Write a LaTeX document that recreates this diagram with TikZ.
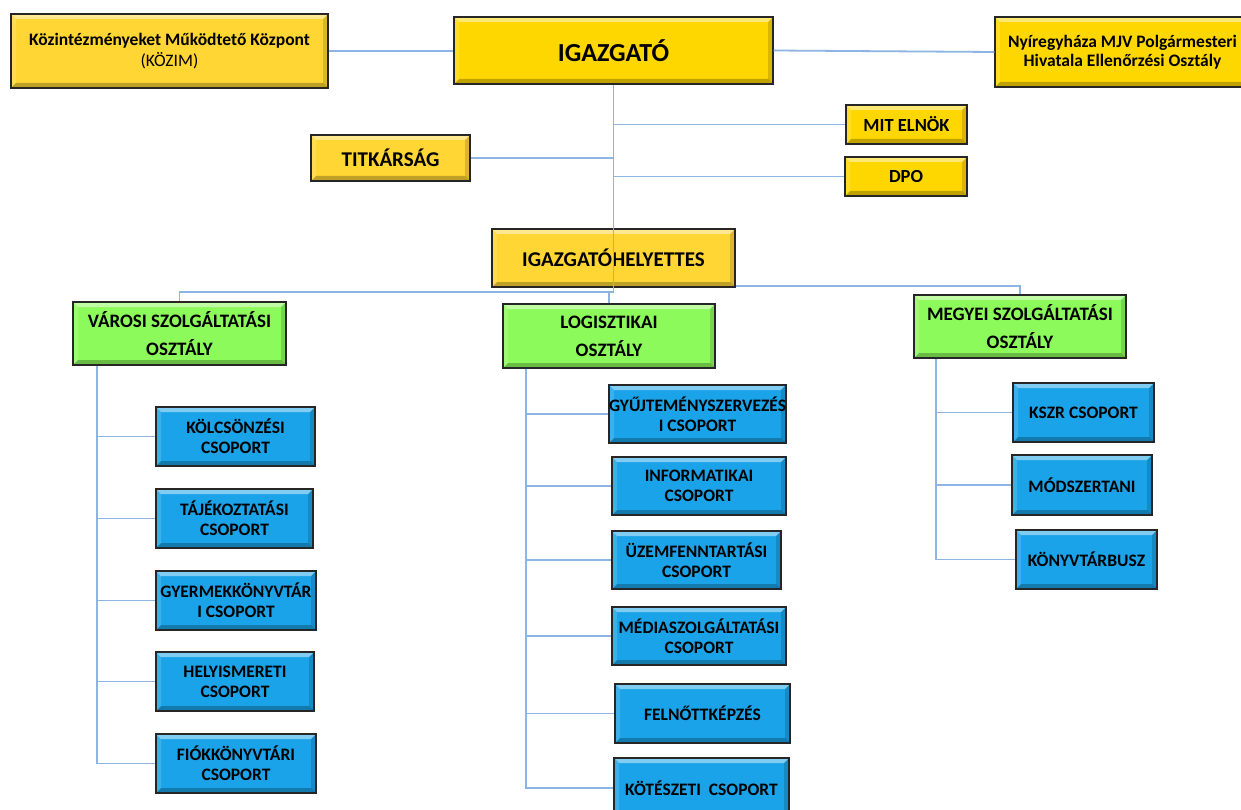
\documentclass[tikz,border=0pt]{standalone}
\usepackage{fontspec}
\setmainfont{Carlito}
\definecolor{goldA}{HTML}{FFD700}
\definecolor{goldB}{HTML}{FFD633}
\definecolor{greenA}{HTML}{8CFA5A}
\definecolor{blueA}{HTML}{1AA3E8}
\definecolor{boxedge}{HTML}{262626}
\definecolor{conn}{HTML}{8DB4E2}
\newcommand\orgbox[7]{\node[#2, minimum width={(#5)-(#3)}, minimum height={(#6)-(#4)}] (#1) at ({((#3)+(#5))/2},{((#4)+(#6))/2}) {#7};}
\tikzset{
 bevel/.style={path picture={
   \fill[white,opacity=.45] (path picture bounding box.north west) -- (path picture bounding box.north east) -- ([shift={(-5pt,-5pt)}]path picture bounding box.north east) -- ([shift={(5pt,-5pt)}]path picture bounding box.north west) -- cycle;
   \fill[black,opacity=.25] (path picture bounding box.south west) -- (path picture bounding box.south east) -- ([shift={(-5pt,5pt)}]path picture bounding box.south east) -- ([shift={(5pt,5pt)}]path picture bounding box.south west) -- cycle;
   \fill[black,opacity=.15] (path picture bounding box.north east) -- (path picture bounding box.south east) -- ([shift={(-5pt,5pt)}]path picture bounding box.south east) -- ([shift={(-5pt,-5pt)}]path picture bounding box.north east) -- cycle;
   \fill[white,opacity=.15] (path picture bounding box.north west) -- (path picture bounding box.south west) -- ([shift={(5pt,5pt)}]path picture bounding box.south west) -- ([shift={(5pt,-5pt)}]path picture bounding box.north west) -- cycle;
 }},
 base/.style={draw=boxedge, line width=1.4pt, inner sep=0pt, align=center, bevel, text=black},
 goldbox/.style={base, fill=goldB, font=\bfseries\fontsize{18.5}{22}\selectfont},
 topbox/.style={base, fill=goldA, font=\bfseries\fontsize{26}{30}\selectfont},
 greenbox/.style={base, fill=greenA, font=\bfseries\fontsize{19}{28}\selectfont},
 bluebox/.style={base, fill=blueA, font=\bfseries\fontsize{17.5}{20}\selectfont},
 link/.style={draw=conn, line width=1.8pt},
}
\begin{document}
\begin{tikzpicture}[x=1pt,y=-1pt]
\useasboundingbox[fill=white] (0,0) rectangle (1241,810);
% top level
\orgbox{kozim}{goldbox,font=\fontsize{17.5}{21}\selectfont}{11}{14}{328}{88}{\textbf{Közintézményeket Működtető Központ}\\(KÖZIM)}
\orgbox{igazgato}{topbox}{454}{17}{773}{84}{IGAZGATÓ}
\orgbox{nyir}{goldbox,fill=goldA,font=\bfseries\fontsize{17.5}{19}\selectfont}{995}{17}{1250}{87}{Nyíregyháza MJV Polgármesteri\\Hivatala Ellenőrzési Osztály}
\orgbox{mit}{goldbox,fill=goldA}{846}{105}{967}{144}{MIT ELNÖK}
\orgbox{titk}{goldbox,font=\bfseries\fontsize{21}{24}\selectfont}{311}{135}{470}{181}{TITKÁRSÁG}
\orgbox{dpo}{goldbox,fill=goldA}{845}{157}{967}{196}{DPO}
\orgbox{helyettes}{goldbox,font=\bfseries\fontsize{21}{24}\selectfont}{492}{229}{735}{287}{IGAZGATÓHELYETTES}
% departments
\orgbox{varosi}{greenbox}{73}{302}{286}{365}{VÁROSI SZOLGÁLTATÁSI\\OSZTÁLY}
\orgbox{logi}{greenbox}{503}{304}{715}{368}{LOGISZTIKAI\\OSZTÁLY}
\orgbox{megyei}{greenbox}{914}{295}{1126}{358}{MEGYEI SZOLGÁLTATÁSI\\OSZTÁLY}
% left groups
\orgbox{kolcs}{bluebox}{156}{407}{315}{466}{KÖLCSÖNZÉSI\\CSOPORT}
\orgbox{taj}{bluebox}{156}{489}{313}{548}{TÁJÉKOZTATÁSI\\CSOPORT}
\orgbox{gyer}{bluebox}{156}{571}{316}{630}{GYERMEKKÖNYVTÁR\\I CSOPORT}
\orgbox{hely}{bluebox}{156}{652}{314}{711}{HELYISMERETI\\CSOPORT}
\orgbox{fiok}{bluebox}{156}{734}{316}{793}{FIÓKKÖNYVTÁRI\\CSOPORT}
% middle groups
\orgbox{gyujt}{bluebox}{611}{385}{784}{443}{GYŰJTEMÉNYSZERVEZÉS\\I CSOPORT}
\orgbox{info}{bluebox}{612}{457}{786}{515}{INFORMATIKAI\\CSOPORT}
\orgbox{uzem}{bluebox}{612}{531}{781}{589}{ÜZEMFENNTARTÁSI\\CSOPORT}
\orgbox{media}{bluebox}{612}{607}{786}{665}{MÉDIASZOLGÁLTATÁSI\\CSOPORT}
\orgbox{feln}{bluebox}{615}{684}{790}{743}{FELNŐTTKÉPZÉS}
\orgbox{kot}{bluebox}{614}{758}{789}{818}{KÖTÉSZETI\ \ CSOPORT}
% right groups
\orgbox{kszr}{bluebox}{1013}{383}{1154}{442}{KSZR CSOPORT}
\orgbox{modsz}{bluebox}{1012}{455}{1152}{515}{MÓDSZERTANI}
\orgbox{busz}{bluebox}{1016}{530}{1157}{589}{KÖNYVTÁRBUSZ}
% connectors
\coordinate (tb) at (613.5,292);
\draw[link] (kozim.east) -- (kozim.east -| igazgato.west);
\draw[link] (igazgato.east) -- (nyir.west);
\draw[link] (igazgato.south) -- (tb);
\draw[link] (mit.west -| tb) -- (mit.west);
\draw[link] (titk.east) -- (titk.east -| tb);
\draw[link] (dpo.west -| tb) -- (dpo.west);
\draw[link] (varosi.north) |- (tb);
\draw[link] (logi.north) -- (logi.north |- tb);
\draw[link] ([yshift=2pt]helyettes.south east) -| (megyei.north);
% left column
\coordinate (lv) at ([xshift=25pt]varosi.south west);
\draw[link] (lv) |- (fiok.west);
\foreach \n in {kolcs,taj,gyer,hely} \draw[link] (\n.west -| lv) -- (\n.west);
% middle column
\coordinate (mv) at ([xshift=24pt]logi.south west);
\draw[link] (mv) |- (kot.west);
\foreach \n in {gyujt,info,uzem,media,feln} \draw[link] (\n.west -| mv) -- (\n.west);
% right column
\coordinate (rv) at ([xshift=23pt]megyei.south west);
\draw[link] (rv) |- (busz.west);
\foreach \n in {kszr,modsz} \draw[link] (\n.west -| rv) -- (\n.west);
\end{tikzpicture}
\end{document}
